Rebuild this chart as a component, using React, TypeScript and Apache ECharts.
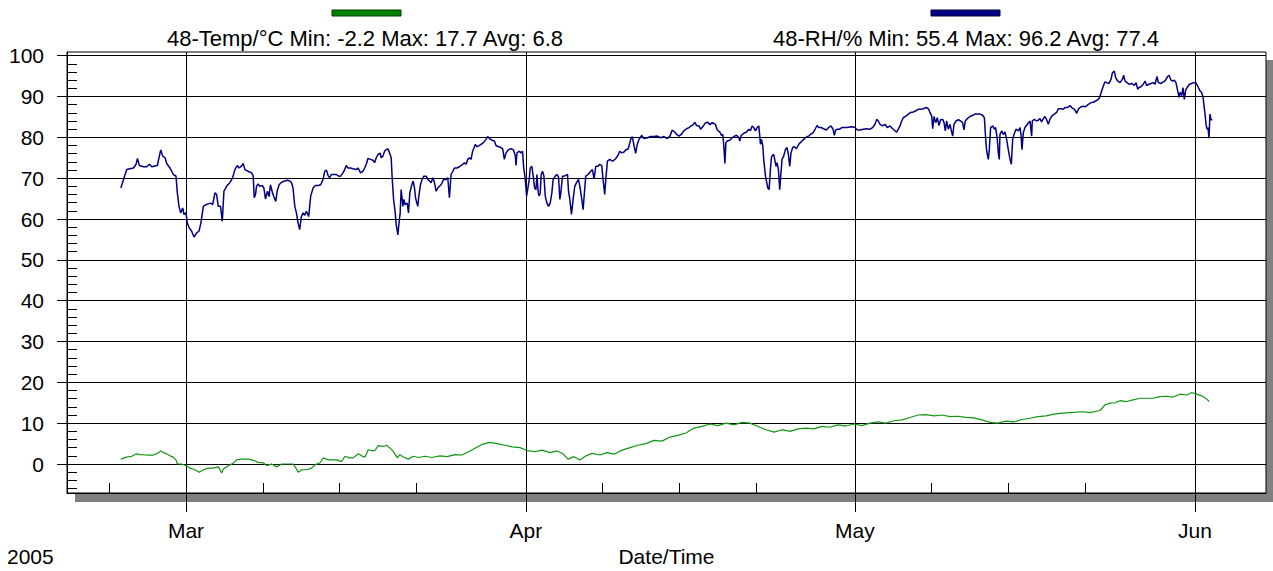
import React, { useEffect, useRef } from "react";
import * as echarts from "echarts";

// x values are days since 2005-03-01 00:00
const X_MIN = -10.85;
const X_MAX = 98.48;
const Y_MIN = -7.1;
const Y_MAX = 100.9;

const MONTH_TICKS = [0, 31, 61, 92];
const MONTH_LABELS = ["Mar", "Apr", "May", "Jun"];
const WEEK_TICKS = [-7, 7, 14, 21, 38, 45, 52, 68, 75, 82];
const Y_MAJOR = [0, 10, 20, 30, 40, 50, 60, 70, 80, 90, 100];
const Y_MINOR = [-6, -4, -2, 2, 4, 6, 8, 12, 14, 16, 18, 22, 24, 26, 28, 32, 34, 36, 38, 42, 44, 46, 48, 52, 54, 56, 58, 62, 64, 66, 68, 72, 74, 76, 78, 82, 84, 86, 88, 92, 94, 96, 98];

const YEAR_LABEL = "2005";
const X_NAME = "Date/Time";
const TEMP_NAME = "48-Temp/°C Min: -2.2 Max: 17.7 Avg: 6.8";
const RH_NAME = "48-RH/% Min: 55.4 Max: 96.2 Avg: 77.4";

const RH_MAR_A: [number, number][] = [
  [-5.94, 67.6], [-5.55, 70.9], [-5.4, 72.1], [-5.1, 72.3], [-4.79, 72.5], [-4.55, 73.4], [-4.43, 74.8], [-4.25, 73.1], [-3.88, 72.8], [-3.58, 72.8], [-3.34, 73.4], [-3.12, 72.8], [-2.82, 73.0], [-2.61, 73.1], [-2.43, 75.4], [-2.3, 76.9], [-2.12, 75.4], [-1.91, 75.0], [-1.76, 73.6], [-1.46, 72.5], [-1.15, 70.9], [-0.91, 70.5], [-0.79, 66.4], [-0.64, 63.1], [-0.48, 61.5], [-0.3, 62.7], [-0.18, 61.1], [0.0, 61.5], [0.12, 59.0], [0.3, 57.8], [0.52, 57.0], [0.73, 55.6], [0.97, 56.6], [1.18, 57.0], [1.36, 59.0], [1.58, 63.1], [1.82, 63.5], [2.03, 63.7], [2.24, 63.9], [2.43, 63.5], [2.64, 66.4], [2.79, 66.0], [2.94, 63.1], [3.15, 63.1], [3.31, 59.4], [3.46, 66.8], [3.7, 68.0], [4.0, 68.9], [4.25, 70.1], [4.46, 72.1], [4.67, 73.1], [4.85, 72.5], [5.07, 73.0], [5.22, 73.6], [5.37, 72.1], [5.67, 71.7], [5.98, 71.3], [6.13, 70.5], [6.22, 65.2], [6.34, 66.0], [6.43, 68.0], [6.58, 68.6], [6.73, 68.0], [6.95, 68.2], [7.1, 67.6], [7.25, 64.9], [7.43, 66.8], [7.58, 65.5], [7.7, 68.4], [7.89, 66.4], [8.01, 65.5], [8.19, 64.3], [8.31, 66.8], [8.49, 68.4], [8.71, 69.0], [9.01, 69.3], [9.22, 69.5],
];
const RH_MAR_B: [number, number][] = [
  [9.46, 69.3], [9.61, 69.0], [9.76, 67.6], [9.92, 63.1], [10.07, 61.5], [10.22, 59.0], [10.37, 57.4], [10.52, 60.6], [10.68, 61.5], [10.83, 60.9], [10.98, 61.9], [11.19, 60.6], [11.37, 65.6], [11.59, 67.6], [11.8, 68.2], [12.04, 68.2], [12.28, 68.4], [12.5, 69.7], [12.65, 71.7], [12.8, 72.0], [12.95, 70.7], [13.1, 70.1], [13.25, 70.9], [13.5, 70.9], [13.71, 70.9], [13.92, 70.5], [14.1, 70.5], [14.32, 71.3], [14.47, 72.1], [14.62, 73.1], [14.77, 72.5], [15.01, 72.5], [15.22, 72.3], [15.53, 72.1], [15.68, 72.5], [15.92, 71.3], [16.14, 71.7], [16.29, 72.5], [16.44, 73.4], [16.59, 74.8], [16.83, 74.6], [17.05, 74.4], [17.2, 73.8], [17.35, 75.0], [17.5, 75.8], [17.71, 76.1], [17.8, 75.0], [17.96, 75.4], [18.11, 76.6], [18.26, 77.0], [18.41, 77.2], [18.56, 76.2], [18.71, 75.0], [18.8, 70.1], [18.93, 64.8], [19.08, 61.5], [19.17, 58.6], [19.32, 56.1], [19.41, 58.6], [19.53, 61.5], [19.62, 67.2], [19.78, 63.1], [19.87, 64.8], [19.99, 63.5], [20.17, 63.9], [20.29, 61.5], [20.41, 66.4], [20.59, 68.4], [20.71, 69.3], [20.84, 67.6], [20.93, 65.2], [21.05, 63.9], [21.14, 63.1], [21.23, 65.6], [21.38, 68.4], [21.53, 69.7], [21.69, 70.5], [21.9, 70.5], [22.05, 69.7], [22.2, 69.3], [22.35, 68.9], [22.51, 70.1], [22.66, 68.9], [22.81, 66.8], [22.96, 67.6], [23.11, 68.0], [23.26, 68.4], [23.5, 69.7], [23.72, 69.7], [23.87, 70.1], [24.02, 65.2], [24.17, 70.9], [24.33, 71.7], [24.48, 72.5], [24.72, 72.5], [24.93, 72.8], [25.08, 73.1], [25.24, 73.4], [25.39, 73.8], [25.54, 73.4], [25.69, 74.6], [25.84, 75.0], [25.99, 74.6], [26.14, 76.6],
];
const RH_APR_A: [number, number][] = [
  [26.39, 78.3], [26.51, 77.7], [26.69, 77.9], [26.9, 78.3], [27.12, 78.7], [27.36, 79.5], [27.51, 80.2], [27.66, 79.7], [27.9, 79.3], [28.12, 79.1], [28.27, 78.0], [28.51, 77.7], [28.72, 77.5], [28.88, 77.2], [29.03, 74.6], [29.18, 76.2], [29.42, 77.0], [29.63, 77.2], [29.85, 77.0], [30.03, 75.4], [30.09, 73.1], [30.18, 76.2], [30.39, 76.6], [30.54, 76.2], [30.69, 76.6], [30.78, 72.9], [30.94, 69.7], [31.06, 65.6], [31.18, 67.6], [31.3, 69.7], [31.39, 72.5], [31.54, 72.9], [31.66, 70.5], [31.79, 67.6], [31.91, 67.2], [32.0, 70.9], [32.12, 66.4], [32.21, 65.6], [32.3, 66.4], [32.39, 70.9], [32.51, 71.7], [32.64, 70.5], [32.76, 65.6], [32.91, 63.9], [33.06, 63.1], [33.21, 63.9], [33.36, 66.4], [33.48, 69.7], [33.67, 70.5], [33.82, 70.9], [33.97, 70.3], [34.09, 64.8], [34.18, 66.4], [34.33, 70.5], [34.48, 70.5], [34.63, 70.7], [34.79, 70.9], [34.88, 66.8], [35.0, 64.8], [35.15, 61.1], [35.3, 64.8], [35.45, 68.0], [35.61, 68.9], [35.79, 69.7], [35.94, 67.6], [36.09, 64.8], [36.21, 62.3], [36.33, 66.4], [36.45, 70.5], [36.67, 70.9], [36.85, 71.5], [37.06, 72.1], [37.21, 69.8], [37.37, 72.9], [37.58, 72.9], [37.73, 73.4], [37.91, 73.1], [38.03, 69.7], [38.18, 66.0], [38.28, 69.7], [38.43, 74.2], [38.64, 74.6], [38.88, 74.2], [39.03, 74.4], [39.19, 74.8], [39.43, 75.8], [39.55, 76.6], [39.73, 76.2], [39.94, 76.4], [40.09, 76.9], [40.33, 77.2], [40.55, 79.5], [40.7, 80.2], [40.85, 78.0], [41.0, 76.1], [41.15, 78.3], [41.31, 79.5], [41.55, 80.5], [41.76, 79.7], [42.07, 79.9], [42.37, 80.2], [42.67, 80.2], [42.97, 80.3],
];
const RH_APR_B: [number, number][] = [
  [43.28, 79.9], [43.58, 80.2], [43.89, 79.7], [44.13, 80.3], [44.34, 81.8], [44.56, 81.3], [44.74, 80.7], [44.95, 80.3], [45.16, 80.7], [45.4, 81.6], [45.65, 82.1], [45.86, 82.4], [46.07, 82.8], [46.26, 83.1], [46.38, 83.7], [46.56, 82.9], [46.77, 82.8], [46.92, 82.0], [47.17, 82.8], [47.38, 83.6], [47.59, 83.7], [47.77, 83.1], [47.98, 83.6], [48.13, 83.4], [48.29, 83.1], [48.44, 81.8], [48.68, 81.3], [48.83, 80.5], [48.95, 80.7], [49.04, 77.9], [49.14, 73.6], [49.23, 78.7], [49.35, 79.1], [49.59, 79.3], [49.8, 79.9], [50.02, 80.3], [50.2, 80.5], [50.41, 79.9], [50.5, 79.1], [50.63, 80.5], [50.87, 81.0], [51.11, 81.3], [51.32, 82.0], [51.47, 81.6], [51.62, 82.8], [51.77, 82.4], [51.93, 81.6], [52.08, 82.4], [52.23, 82.8], [52.32, 80.3], [52.38, 78.3], [52.47, 79.5], [52.59, 78.0], [52.68, 74.6], [52.84, 70.5], [52.93, 69.3], [53.05, 67.6], [53.17, 67.2], [53.29, 72.1], [53.38, 75.0], [53.47, 75.6], [53.59, 75.8], [53.68, 74.6], [53.8, 72.9], [53.9, 73.8], [54.02, 72.1], [54.14, 67.2], [54.23, 70.5], [54.35, 74.6], [54.5, 75.4], [54.66, 77.0], [54.81, 77.5], [54.93, 75.8], [55.05, 72.9], [55.17, 76.2], [55.32, 77.5], [55.48, 77.7], [55.66, 77.2], [55.87, 78.3], [56.02, 78.7], [56.17, 79.1], [56.32, 79.5], [56.48, 79.9], [56.63, 80.2], [56.78, 80.3], [56.93, 80.7], [57.17, 81.1], [57.39, 82.1], [57.54, 82.9], [57.69, 82.4], [57.9, 82.4], [58.14, 82.1], [58.39, 81.8], [58.6, 82.4], [58.81, 82.8], [59.0, 82.0], [59.12, 80.5], [59.24, 81.8], [59.42, 82.0], [59.6, 82.0], [59.81, 82.4],
];
const RH_MAY_A: [number, number][] = [
  [60.24, 82.4], [60.7, 82.6], [61.0, 82.4], [61.22, 81.8], [61.46, 81.8], [61.76, 82.0], [62.07, 82.1], [62.37, 82.0], [62.61, 82.4], [62.83, 83.2], [62.98, 84.4], [63.13, 84.0], [63.28, 83.2], [63.53, 82.8], [63.74, 83.2], [63.95, 82.4], [64.19, 82.8], [64.44, 82.1], [64.65, 81.6], [64.8, 81.3], [64.95, 82.0], [65.11, 82.8], [65.26, 84.0], [65.41, 84.8], [65.65, 85.2], [65.87, 85.7], [66.08, 86.1], [66.32, 86.2], [66.56, 86.5], [66.78, 86.9], [66.99, 86.9], [67.23, 87.0], [67.48, 87.3], [67.69, 87.0], [67.84, 86.1], [68.0, 85.2], [68.09, 82.1], [68.21, 85.1], [68.36, 83.6], [68.51, 84.8], [68.66, 82.9], [68.81, 84.3], [69.0, 84.4], [69.12, 83.6], [69.24, 81.6], [69.36, 84.0], [69.51, 82.0], [69.67, 83.2], [69.79, 81.6], [69.91, 80.3], [70.03, 83.2], [70.21, 84.0], [70.43, 84.3], [70.64, 84.0], [70.82, 83.6], [70.94, 81.8], [71.06, 84.0], [71.25, 84.6], [71.49, 85.1], [71.73, 85.4], [71.95, 85.7], [72.16, 85.7], [72.4, 85.7], [72.64, 85.4], [72.8, 84.8], [72.92, 79.5], [73.01, 76.6], [73.16, 74.6], [73.25, 77.0], [73.37, 82.4], [73.56, 82.8], [73.71, 82.0], [73.83, 82.4], [73.98, 79.5], [74.07, 76.2], [74.16, 74.6], [74.22, 80.7], [74.38, 81.6], [74.53, 80.7], [74.68, 81.3], [74.83, 79.5], [74.98, 77.0], [75.14, 74.6], [75.26, 73.4], [75.38, 79.5], [75.5, 80.7], [75.68, 82.0], [75.9, 81.6], [76.05, 82.4], [76.14, 80.7], [76.23, 77.0], [76.35, 81.1], [76.5, 82.4], [76.72, 83.2], [76.96, 84.0],
];
const RH_MAY_B: [number, number][] = [
  [77.11, 80.3], [77.17, 84.0], [77.36, 84.4], [77.57, 84.0], [77.72, 84.2], [77.87, 84.6], [78.02, 83.8], [78.18, 84.6], [78.33, 85.1], [78.48, 84.3], [78.63, 83.2], [78.78, 84.4], [78.94, 85.2], [79.18, 85.7], [79.39, 86.1], [79.54, 87.0], [79.79, 87.0], [80.0, 86.9], [80.15, 87.3], [80.4, 87.3], [80.61, 87.8], [80.76, 87.3], [81.0, 86.9], [81.22, 85.9], [81.37, 86.9], [81.61, 87.5], [81.82, 87.6], [82.04, 87.5], [82.28, 88.1], [82.52, 88.5], [82.74, 88.6], [82.95, 88.9], [83.19, 89.3], [83.34, 90.0], [83.5, 91.4], [83.65, 92.6], [83.8, 93.6], [83.95, 93.4], [84.16, 93.2], [84.35, 94.2], [84.47, 95.8], [84.65, 96.2], [84.77, 94.6], [84.95, 93.8], [85.17, 93.4], [85.38, 94.2], [85.5, 95.2], [85.62, 93.8], [85.81, 93.4], [85.99, 93.0], [86.23, 93.2], [86.48, 92.7], [86.63, 93.4], [86.78, 91.8], [86.9, 92.2], [87.08, 92.4], [87.29, 93.0], [87.45, 93.8], [87.6, 92.7], [87.81, 93.0], [87.99, 93.2], [88.21, 93.4], [88.36, 93.0], [88.54, 94.9], [88.66, 93.4], [88.91, 93.2], [89.12, 93.6], [89.27, 93.8], [89.51, 94.9], [89.64, 95.2], [89.82, 94.0], [89.97, 93.8], [90.12, 94.0], [90.27, 93.4], [90.43, 91.4], [90.55, 89.8], [90.64, 91.0], [90.79, 90.2], [90.91, 92.2], [91.03, 89.3], [91.16, 91.6], [91.34, 92.4], [91.49, 93.0], [91.7, 93.2], [91.85, 93.4], [92.07, 93.4], [92.22, 92.7], [92.31, 92.2], [92.46, 91.4], [92.61, 91.0], [92.74, 89.8], [92.83, 87.7], [92.92, 85.7], [93.01, 83.2], [93.1, 82.0], [93.19, 82.4], [93.28, 79.8], [93.37, 85.7], [93.47, 84.3], [93.59, 84.3],
];

const TEMP_MAR: [number, number][] = [
  [-5.95, 1.2], [-5.41, 1.7], [-4.95, 1.9], [-4.5, 2.5], [-4.19, 2.3], [-3.58, 2.2], [-2.98, 2.2], [-2.53, 2.7], [-2.31, 3.2], [-2.07, 2.8], [-1.76, 2.5], [-1.46, 2.0], [-1.16, 1.7], [-0.91, 1.0], [-0.79, 0.0], [-0.39, 0.0], [0.0, -0.4], [0.36, -1.0], [0.82, -1.4], [1.21, -2.0], [1.58, -1.4], [2.03, -1.0], [2.49, -1.0], [2.95, -0.7], [3.26, -2.2], [3.4, -1.2], [3.86, -0.4], [4.31, 0.2], [4.62, 1.0], [5.08, 1.2], [5.68, 1.2], [6.14, 0.9], [6.59, 0.4], [7.05, 0.3], [7.36, -0.4], [7.81, 0.0], [8.27, -0.7], [8.73, 0.0], [9.78, 0.0], [10.03, -1.0], [10.24, -2.0], [10.55, -1.4], [11.01, -1.4], [11.46, -1.0], [11.76, -0.2], [12.22, 0.3], [12.52, 1.5], [12.98, 1.0], [13.43, 1.0], [13.74, 1.0], [14.2, 0.6], [14.5, 1.9], [14.89, 1.5], [15.25, 1.5], [15.71, 2.5], [16.02, 2.0], [16.32, 1.7], [16.62, 3.5], [16.93, 3.3], [17.23, 3.3], [17.53, 4.5], [17.99, 4.3], [18.3, 4.6], [18.6, 3.9], [18.9, 3.1], [19.27, 1.5], [19.51, 2.3], [19.81, 1.7], [20.27, 1.2], [20.73, 1.9], [21.18, 1.6],
];
const TEMP_APR: [number, number][] = [
  [21.79, 1.9], [22.43, 1.6], [23.16, 2.0], [23.8, 1.8], [24.53, 2.3], [25.17, 2.2], [25.9, 3.2], [26.44, 4.0], [26.99, 4.8], [27.72, 5.3], [28.36, 5.0], [29.09, 4.6], [29.73, 4.2], [30.46, 4.0], [31.09, 3.3], [31.82, 3.0], [32.46, 3.4], [33.19, 2.8], [33.83, 3.2], [34.38, 2.5], [34.83, 1.2], [35.38, 1.8], [35.93, 1.0], [36.47, 2.0], [37.02, 2.6], [37.75, 2.2], [38.39, 2.8], [39.03, 2.4], [39.76, 3.4], [40.49, 4.0], [41.21, 4.6], [41.94, 5.0], [42.67, 5.8], [43.4, 5.6], [44.13, 6.6], [44.86, 7.0], [45.59, 7.6], [46.32, 8.8], [47.05, 9.2], [47.78, 9.8], [48.51, 9.4], [49.24, 10.0], [49.97, 9.6], [50.7, 10.2], [51.43, 10.0], [52.16, 9.2], [52.89, 8.4], [53.62, 7.8], [54.35, 8.4], [55.08, 8.0], [55.8, 8.6], [56.53, 8.8], [57.26, 8.6], [57.99, 9.2], [58.72, 9.0], [59.45, 9.6], [60.18, 9.3],
];
const TEMP_MAY: [number, number][] = [
  [60.91, 9.8], [61.64, 9.4], [62.37, 10.0], [63.1, 10.3], [63.83, 10.0], [64.56, 10.6], [65.29, 10.8], [66.02, 11.4], [66.75, 12.0], [67.48, 12.1], [68.2, 11.8], [68.93, 12.0], [69.66, 11.6], [70.39, 11.7], [71.12, 11.4], [71.85, 11.3], [72.58, 10.8], [73.31, 10.2], [74.04, 10.0], [74.77, 10.5], [75.5, 10.3], [76.23, 10.9], [76.96, 11.2], [77.69, 11.6], [78.42, 11.8], [79.15, 12.2], [79.69, 12.4], [80.6, 12.6], [81.79, 12.8], [82.43, 12.6], [83.34, 13.1], [83.8, 14.5], [84.26, 14.9], [84.71, 15.0], [85.17, 15.5], [85.78, 15.3], [86.35, 15.7], [86.99, 16.1], [88.17, 16.1], [88.81, 16.5], [89.42, 16.6], [90.0, 16.4], [90.64, 17.1], [91.25, 16.9], [91.7, 17.5], [92.16, 17.1], [92.61, 16.7], [93.07, 15.9], [93.31, 15.3],
];

const RH_DATA = [...RH_MAR_A, ...RH_MAR_B, ...RH_APR_A, ...RH_APR_B, ...RH_MAY_A, ...RH_MAY_B];
const TEMP_DATA = [...TEMP_MAR, ...TEMP_APR, ...TEMP_MAY];

const FONT = '"Liberation Sans", Arial, sans-serif';
const FS = 21;
const FS_LEGEND = 22;
const LINE = { color: "#000", width: 1 };

export default function App() {
  const ref = useRef<HTMLDivElement>(null);
  useEffect(() => {
    if (!ref.current) return;
    const chart = echarts.init(ref.current, undefined, { renderer: "svg" });
    const option: any = {
      animation: false,
      backgroundColor: "#fff",
      textStyle: { fontFamily: FONT },
      grid: {
        left: 67, right: 7, top: 52, bottom: 78,
        show: true, backgroundColor: "#fff", borderColor: "#000", borderWidth: 1,
        outerBoundsMode: "none",
      },
      xAxis: [
        {
          type: "value", min: X_MIN, max: X_MAX, position: "bottom",
          axisLine: { show: true, onZero: false, lineStyle: LINE },
          axisTick: { show: true, length: 19, customValues: MONTH_TICKS, lineStyle: LINE },
          axisLabel: {
            customValues: MONTH_TICKS, margin: 27, fontSize: FS, color: "#000", fontFamily: FONT,
            formatter: (v: number) => MONTH_LABELS[MONTH_TICKS.indexOf(Math.round(v))] ?? "",
          },
          splitLine: { show: true, lineStyle: LINE },
          name: X_NAME, nameLocation: "middle", nameGap: 51,
          nameTextStyle: { fontSize: FS, color: "#000", fontFamily: FONT },
        },
        {
          type: "value", min: X_MIN, max: X_MAX, position: "bottom",
          axisLine: { show: false, onZero: false },
          axisTick: { show: true, inside: true, length: 10, customValues: WEEK_TICKS, lineStyle: LINE },
          axisLabel: { show: false },
          splitLine: { show: false },
        },
      ],
      yAxis: [
        {
          type: "value", min: Y_MIN, max: Y_MAX, position: "left",
          axisLine: { show: true, onZero: false, lineStyle: LINE },
          axisTick: { show: true, length: 10, customValues: Y_MAJOR, lineStyle: LINE },
          axisLabel: { customValues: Y_MAJOR, margin: 23, fontSize: FS, color: "#000", fontFamily: FONT },
          splitLine: { show: true, lineStyle: LINE },
        },
        {
          type: "value", min: Y_MIN, max: Y_MAX, position: "left",
          axisLine: { show: false, onZero: false },
          axisTick: { show: true, inside: true, length: 10, customValues: Y_MINOR, lineStyle: LINE },
          axisLabel: { show: false },
          splitLine: { show: false },
        },
      ],
      series: [
        {
          name: "48-RH/%", type: "line", data: RH_DATA, xAxisIndex: 0, yAxisIndex: 0,
          showSymbol: false, symbol: "none", lineStyle: { color: "#000080", width: 1.5 },
          itemStyle: { color: "#000080" }, z: 3,
        },
        {
          name: "48-Temp/°C", type: "line", data: TEMP_DATA, xAxisIndex: 0, yAxisIndex: 0,
          showSymbol: false, symbol: "none", lineStyle: { color: "#119611", width: 1.2 },
          itemStyle: { color: "#008000" }, z: 3,
        },
      ],
      graphic: [
        {
          type: "rect", z: -10, silent: true,
          shape: { x: 75, y: 60, width: 1198, height: 442 },
          style: { fill: "#808080" },
        },
        {
          type: "rect", silent: true,
          shape: { x: 332, y: 10, width: 69, height: 6 },
          style: { fill: "#008000", stroke: "#004000", lineWidth: 1 },
        },
        {
          type: "text", silent: true, x: 365, y: 38,
          style: { text: TEMP_NAME, fill: "#000", fontSize: FS_LEGEND, fontFamily: FONT, align: "center", verticalAlign: "middle" },
        },
        {
          type: "rect", silent: true,
          shape: { x: 931, y: 10, width: 69, height: 6 },
          style: { fill: "#000080", stroke: "#000040", lineWidth: 1 },
        },
        {
          type: "text", silent: true, x: 966, y: 38,
          style: { text: RH_NAME, fill: "#000", fontSize: FS_LEGEND, fontFamily: FONT, align: "center", verticalAlign: "middle" },
        },
        {
          type: "text", silent: true, x: 7, y: 556,
          style: { text: YEAR_LABEL, fill: "#000", fontSize: FS, fontFamily: FONT, align: "left", verticalAlign: "middle" },
        },
      ],
    };
    chart.setOption(option);
    return () => chart.dispose();
  }, []);
  return (
    <div
      ref={ref}
      style={{ position: "fixed", left: 0, top: 0, width: 1273, height: 571, background: "#fff" }}
    />
  );
}
